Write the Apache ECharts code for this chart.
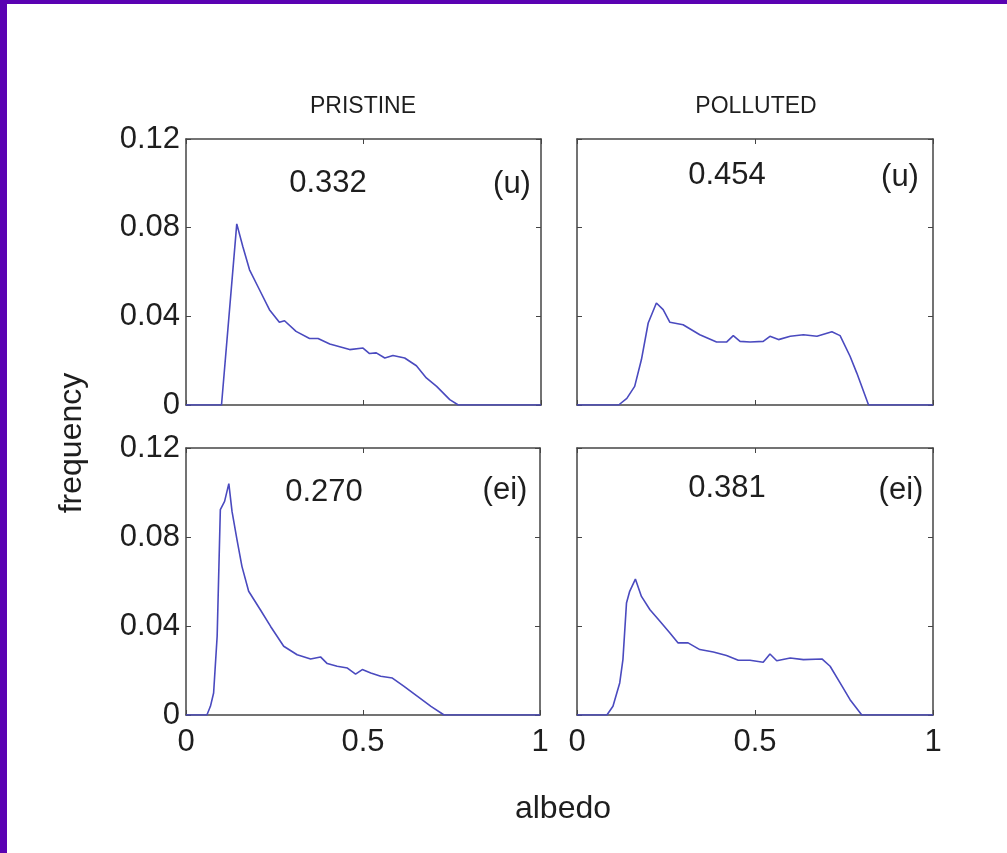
<!DOCTYPE html>
<html>
<head>
<meta charset="utf-8">
<title>albedo frequency</title>
<script src="https://cdn.jsdelivr.net/npm/echarts@6/dist/echarts.min.js"></script>
<style>
  body { margin: 0; background: #ffffff; }
  #main { position: absolute; left: 0; top: 0; width: 1007px; height: 853px; }
  .band { position: absolute; background: #5a02b2; }
</style>
</head>
<body>
<div id="main"></div>
<div class="band" style="left:0;top:0;width:7px;height:853px;"></div>
<div class="band" style="left:0;top:0;width:1007px;height:4px;"></div>
<script>
// albedo / frequency curves, as [albedo, frequency]
var pristineU = [
  [0, 0], [0.1, 0], [0.143, 0.0817], [0.16, 0.0715], [0.179, 0.061], [0.207, 0.052],
  [0.235, 0.043], [0.263, 0.0373], [0.2775, 0.038], [0.31, 0.0332], [0.348, 0.030],
  [0.372, 0.030], [0.405, 0.0275], [0.461, 0.025], [0.4986, 0.0257], [0.517, 0.0232],
  [0.536, 0.0235], [0.56, 0.0212], [0.583, 0.0223], [0.616, 0.0212], [0.649, 0.0177],
  [0.677, 0.0122], [0.706, 0.0084], [0.743, 0.0024], [0.767, 0], [1, 0]
];
var pollutedU = [
  [0, 0], [0.117, 0], [0.14, 0.003], [0.162, 0.0084], [0.181, 0.0205], [0.2, 0.037], [0.223, 0.046],
  [0.242, 0.043], [0.261, 0.0373], [0.298, 0.0362], [0.345, 0.0317], [0.392, 0.0284],
  [0.42, 0.0284], [0.439, 0.0313], [0.458, 0.0287], [0.486, 0.0284], [0.523, 0.0287],
  [0.542, 0.031], [0.566, 0.0295], [0.599, 0.031], [0.636, 0.0317], [0.674, 0.031],
  [0.716, 0.033], [0.739, 0.0313], [0.767, 0.022], [0.786, 0.0144], [0.819, 0], [1, 0]
];
var pristineEI = [
  [0, 0], [0.059, 0], [0.069, 0.0039], [0.078, 0.0099], [0.088, 0.0354], [0.097, 0.0923],
  [0.109, 0.096], [0.121, 0.104], [0.13, 0.0915], [0.144, 0.0788], [0.158, 0.0668],
  [0.177, 0.0556], [0.21, 0.0473], [0.239, 0.0398], [0.276, 0.0309], [0.314, 0.0271],
  [0.352, 0.0252], [0.38, 0.0261], [0.399, 0.0231], [0.427, 0.0219], [0.456, 0.0211],
  [0.479, 0.0184], [0.498, 0.0204], [0.522, 0.0189], [0.55, 0.0174], [0.583, 0.0166],
  [0.616, 0.0129], [0.654, 0.0084], [0.692, 0.0039], [0.729, 0], [1, 0]
];
var pollutedEI = [
  [0, 0], [0.084, 0], [0.101, 0.0039], [0.12, 0.0144], [0.129, 0.0249], [0.139, 0.0503],
  [0.148, 0.0556], [0.164, 0.0611], [0.181, 0.0533], [0.205, 0.0473], [0.233, 0.0421],
  [0.261, 0.0369], [0.284, 0.0324], [0.312, 0.0324], [0.345, 0.0294], [0.383, 0.0283],
  [0.42, 0.0267], [0.453, 0.0246], [0.486, 0.0246], [0.523, 0.0237], [0.542, 0.0274],
  [0.561, 0.0244], [0.599, 0.0256], [0.636, 0.0249], [0.688, 0.0252], [0.711, 0.0219],
  [0.739, 0.0144], [0.767, 0.0069], [0.8, 0], [1, 0]
];

var columnTitles = ['PRISTINE', 'POLLUTED'];
var panelValues = ['0.332', '0.454', '0.270', '0.381'];
var panelTags = ['(u)', '(u)', '(ei)', '(ei)'];
var xTickLabels = ['0', '0.5', '1'];
var yTickLabels = ['0', '0.04', '0.08', '0.12'];

var FONT = '"Liberation Sans", Arial, sans-serif';
var TXT = '#1e1e1e';
var BOX = '#454545';

// panel boxes in px
var grids = [
  { left: 186, top: 139, width: 355, height: 266 },
  { left: 577, top: 139, width: 356, height: 266 },
  { left: 186, top: 448, width: 354, height: 267 },
  { left: 577, top: 448, width: 356, height: 267 }
];
var panelData = [pristineU, pollutedU, pristineEI, pollutedEI];

var xAxes = [], yAxes = [], series = [];
for (let i = 0; i < 4; i++) {
  let bottomRow = i >= 2;
  let leftCol = i % 2 === 0;
  let base = {
    gridIndex: i, type: 'value', splitLine: { show: false },
    axisLine: { show: true, onZero: false, lineStyle: { color: BOX, width: 1.5 } },
    axisTick: { show: true, inside: true, length: 5, lineStyle: { color: BOX, width: 1 } }
  };
  xAxes.push(Object.assign({}, base, {
    position: 'bottom', min: 0, max: 1, interval: 0.5,
    axisLabel: {
      show: bottomRow, margin: 12, fontSize: 31, fontFamily: FONT, color: TXT,
      formatter: function (v) { return xTickLabels[Math.round(v / 0.5)]; }
    }
  }));
  xAxes.push(Object.assign({}, base, {
    position: 'top', min: 0, max: 1, interval: 0.5, axisLabel: { show: false }
  }));
  yAxes.push(Object.assign({}, base, {
    position: 'left', min: 0, max: 0.12, interval: 0.04,
    axisLabel: {
      show: leftCol, margin: 6, fontSize: 31, fontFamily: FONT, color: TXT,
      formatter: function (v) { return yTickLabels[Math.round(v / 0.04)]; }
    }
  }));
  yAxes.push(Object.assign({}, base, {
    position: 'right', min: 0, max: 0.12, interval: 0.04, axisLabel: { show: false }
  }));
  series.push({
    type: 'line', xAxisIndex: i * 2, yAxisIndex: i * 2, data: panelData[i],
    showSymbol: false, smooth: false, silent: true,
    lineStyle: { color: '#4a4abf', width: 1.6 }
  });
}

function label(text, x, y, size, extra) {
  return Object.assign({
    type: 'text', x: x, y: y, silent: true,
    style: { text: text, fontSize: size, fontFamily: FONT, fill: TXT, textAlign: 'center', textVerticalAlign: 'middle' }
  }, extra || {});
}

var valuePos = [[328, 183], [727, 175], [324, 492], [727, 488]];
var tagPos = [[512, 184], [900, 177], [505, 490], [901, 490]];
var graphics = [
  label(columnTitles[0], 363, 107, 23),
  label(columnTitles[1], 756, 107, 23),
  label('frequency', 72, 443, 32, { rotation: Math.PI / 2 }),
  label('albedo', 563, 809, 32)
];
for (let i = 0; i < 4; i++) {
  graphics.push(label(panelValues[i], valuePos[i][0], valuePos[i][1], 31));
  graphics.push(label(panelTags[i], tagPos[i][0], tagPos[i][1], 31));
}

var myChart = echarts.init(document.getElementById('main'), null, { renderer: 'canvas' });
var option = {
  backgroundColor: '#ffffff',
  animation: false,
  grid: grids.map(function (g) { return Object.assign({ containLabel: false, show: false }, g); }),
  xAxis: xAxes,
  yAxis: yAxes,
  series: series,
  graphic: graphics
};
option && myChart.setOption(option);
</script>
</body>
</html>
